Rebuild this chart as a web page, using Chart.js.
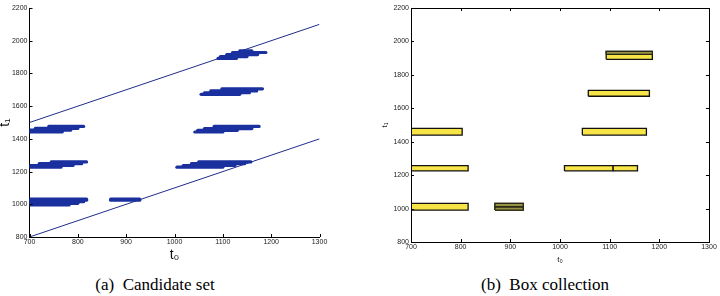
<!DOCTYPE html>
<html>
<head>
<meta charset="utf-8">
<script src="https://cdn.jsdelivr.net/npm/chart.js@4"></script>
<style>
  body { margin: 0; background: #fff; width: 720px; height: 296px; position: relative; overflow: hidden; }
  canvas { position: absolute; top: 0; }
  #left { left: 0; }
  #right { left: 360px; }
  .cap { position: absolute; top: 275px; font-family: "Liberation Serif", serif; font-size: 17px; text-align: center; width: 240px; white-space: pre; }
</style>
</head>
<body>
<canvas id="left" width="330" height="270"></canvas>
<canvas id="right" width="360" height="275"></canvas>
<div class="cap" style="left:35px">(a)  Candidate set</div>
<div class="cap" style="left:425px">(b)  Box collection</div>
<script>
// candidate set: rows of t0 ranges at a given t1
const rowT1 = [1443, 1453, 1464, 1476,
               1227, 1237, 1248, 1259,
               996, 1006, 1016, 1025, 1031,
               1025, 1031,
               1227, 1237, 1248, 1259,
               1442, 1452, 1463, 1476,
               1672, 1682, 1693, 1706,
               1892, 1903, 1915, 1928, 1938];
const rowStart = [697, 698, 712, 740,
                  697, 700, 720, 745,
                  697, 697, 697, 697, 697,
                  868, 868,
                  1005, 1018, 1035, 1050,
                  1042, 1048, 1062, 1082,
                  1055, 1062, 1075, 1098,
                  1090, 1095, 1108, 1120, 1135];
const rowEnd = [768, 785, 800, 812,
                765, 790, 808, 818,
                782, 800, 812, 818, 818,
                928, 928,
                1100, 1125, 1145, 1158,
                1100, 1130, 1160, 1175,
                1135, 1155, 1170, 1182,
                1128, 1150, 1172, 1189, 1160];

// bounding lines
const boundT0 = [700, 1300];
const upperT1 = [1500, 2100];
const lowerT1 = [800, 1400];

// box collection
const boxT0Start = [700, 1045, 1057, 1093, 1093, 700, 1009, 1107, 700, 869, 869, 869];
const boxT0End = [803, 1174, 1180, 1186, 1186, 815, 1107, 1156, 815, 926, 926, 926];
const boxT1Low = [1440, 1440, 1672, 1893, 1922, 1225, 1225, 1225, 991, 991, 991, 1011];
const boxT1High = [1480, 1480, 1707, 1940, 1940, 1257, 1257, 1257, 1031, 1031, 1011, 1031];
const boxLayer = [1, 1, 1, 1, 2, 1, 1, 1, 1, 2, 2, 2];

const t0Ticks = [700, 800, 900, 1000, 1100, 1200, 1300];
const t1Ticks = [800, 1000, 1200, 1400, 1600, 1800, 2000, 2200];

const tickFont = { family: "Liberation Sans, Arial, sans-serif", size: 7 };

const innerTicks = {
  id: 'innerTicks',
  afterDatasetsDraw(chart, args, opts) {
    const { ctx, chartArea: a, scales: { x, y } } = chart;
    const L = 3;
    ctx.save();
    ctx.strokeStyle = '#000';
    ctx.lineWidth = 1;
    ctx.beginPath();
    t0Ticks.forEach(v => {
      const px = Math.round(x.getPixelForValue(v)) + 0.5;
      ctx.moveTo(px, a.bottom); ctx.lineTo(px, a.bottom - L);
      if (opts.box) { ctx.moveTo(px, a.top); ctx.lineTo(px, a.top + L); }
    });
    t1Ticks.forEach(v => {
      const py = Math.round(y.getPixelForValue(v)) + 0.5;
      ctx.moveTo(a.left, py); ctx.lineTo(a.left + L, py);
      if (opts.box) { ctx.moveTo(a.right, py); ctx.lineTo(a.right - L, py); }
    });
    if (opts.box) ctx.rect(a.left + 0.5, a.top + 0.5, a.right - a.left, a.bottom - a.top);
    ctx.stroke();
    ctx.restore();
  }
};

function axes(opts) {
  return {
    x: {
      type: 'linear', min: 700, max: 1300,
      afterBuildTicks: s => { s.ticks = t0Ticks.map(v => ({ value: v })); },
      afterFit: s => { s.height = opts.xh; },
      grid: { display: false, drawTicks: false, tickLength: 0 },
      border: { display: true, color: '#000', width: 1 },
      ticks: { font: tickFont, color: '#222', padding: 1, maxRotation: 0, callback: v => String(v) },
      title: { display: true, text: 't₀', color: '#111', padding: 0,
               font: { family: "Liberation Sans, Arial, sans-serif", size: opts.titleSize } }
    },
    y: {
      type: 'linear', min: 800, max: 2200,
      afterBuildTicks: s => { s.ticks = t1Ticks.map(v => ({ value: v })); },
      afterFit: s => { s.width = opts.yw; },
      grid: { display: false, drawTicks: false, tickLength: 0 },
      border: { display: true, color: '#000', width: 1 },
      ticks: { font: tickFont, color: '#222', padding: 2, callback: v => String(v) },
      title: { display: true, text: 't₁', color: '#111', padding: { top: opts.yTitlePad, bottom: 0 },
               font: { family: "Liberation Sans, Arial, sans-serif", size: opts.titleSize } }
    }
  };
}

const blue = 'rgb(26, 48, 158)';
const leftSets = rowT1.map((t1, i) => ({
  data: [{ x: rowStart[i], y: t1 }, { x: rowEnd[i], y: t1 }],
  showLine: true, borderColor: blue, borderWidth: 3.2, borderCapStyle: 'round',
  pointRadius: 0
}));
leftSets.push({
  data: boundT0.map((v, i) => ({ x: v, y: upperT1[i] })),
  showLine: true, borderColor: 'rgb(32, 44, 140)', borderWidth: 1, pointRadius: 0
});
leftSets.push({
  data: boundT0.map((v, i) => ({ x: v, y: lowerT1[i] })),
  showLine: true, borderColor: 'rgb(32, 44, 140)', borderWidth: 1, pointRadius: 0
});

new Chart(document.getElementById('left'), {
  type: 'scatter',
  data: { datasets: leftSets },
  options: {
    responsive: false, animation: false, devicePixelRatio: 1,
    layout: { padding: { top: 8, right: 10.5, left: 0, bottom: 6 } },
    plugins: { legend: { display: false }, tooltip: { enabled: false }, innerTicks: { box: false } },
    scales: axes({ xh: 27, yw: 29.5, titleSize: 14, yTitlePad: -3 })
  },
  plugins: [innerTicks]
});

// later boxes sit on top of earlier ones
const rightSets = boxT0Start.map((x0, i) => {
  const x1 = boxT0End[i], y0 = boxT1Low[i], y1 = boxT1High[i];
  return {
    data: [{ x: x0, y: y0 }, { x: x1, y: y0 }, { x: x1, y: y1 }, { x: x0, y: y1 }, { x: x0, y: y0 }],
    showLine: true, fill: 'shape', pointRadius: 0,
    order: boxT0Start.length - i,
    backgroundColor: boxLayer[i] > 1 ? 'rgb(150, 146, 70)' : 'rgb(247, 228, 70)',
    borderColor: boxLayer[i] > 1 ? '#2a2812' : '#111', borderWidth: 1.3
  };
});

new Chart(document.getElementById('right'), {
  type: 'scatter',
  data: { datasets: rightSets },
  options: {
    responsive: false, animation: false, devicePixelRatio: 1,
    layout: { padding: { top: 8, right: 11, left: 20, bottom: 10 } },
    plugins: { legend: { display: false }, tooltip: { enabled: false }, innerTicks: { box: true } },
    scales: axes({ xh: 23, yw: 31, titleSize: 8, yTitlePad: 0 })
  },
  plugins: [innerTicks]
});
</script>
</body>
</html>
